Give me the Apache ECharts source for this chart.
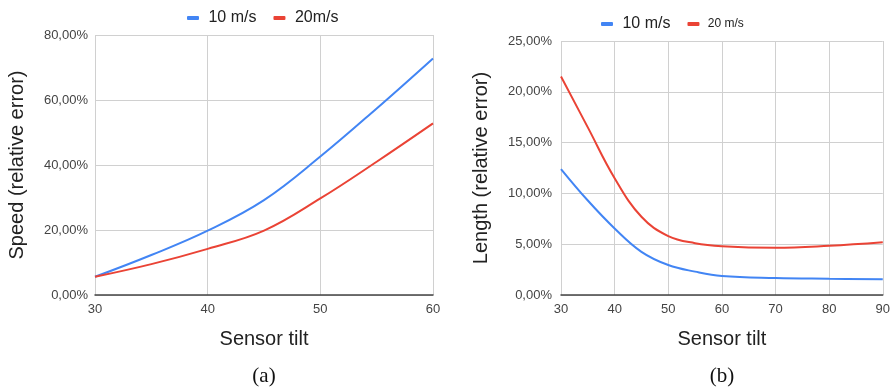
<!DOCTYPE html>
<html><head><meta charset="utf-8">
<script src="https://cdn.jsdelivr.net/npm/echarts@6/dist/echarts.min.js"></script>
<style>html,body{margin:0;padding:0;background:#fff}#c{width:893px;height:391px}</style>
</head><body><div id="c"></div>
<script>
const tiltA = [30, 35, 40, 45, 50, 55, 60];
const speed10 = [5.6, 12.3, 19.8, 29.2, 42.6, 57.4, 72.8];
const speed20 = [5.6, 9.5, 14.2, 19.8, 29.7, 41.0, 52.8];
const tiltB = [30, 35, 40, 45, 50, 55, 60, 70, 80, 90];
const length10 = [12.4, 9.3, 6.55, 4.25, 2.95, 2.3, 1.87, 1.67, 1.6, 1.55];
const length20 = [21.5, 16.5, 11.5, 7.7, 5.8, 5.1, 4.8, 4.65, 4.85, 5.2];
const seriesNamesA = ['10 m/s', '20m/s'];
const seriesNamesB = ['10 m/s', '20 m/s'];
const captions = ['(a)', '(b)'];

const BLUE = '#4285F4', RED = '#EA4335';
const FONT = '"Liberation Sans", Arial, sans-serif';
const pct = v => v.toFixed(2).replace('.', ',') + '%';
const zip = (xs, ys) => xs.map((x, i) => [x, ys[i]]);
const axisLbl = {color: '#444', fontSize: 13, fontFamily: FONT};
const gridLine = {show: true, lineStyle: {color: '#d0d0d0', width: 1}};
const nameStyle = {fontSize: 20, color: '#222', fontFamily: FONT};
const capStyle = {fontFamily: '"Liberation Serif", "DejaVu Serif", serif', fontSize: 21, fontWeight: 'normal', color: '#111'};
const legFmt = n => ' ' + n.trim();

const chart = echarts.init(document.getElementById('c'));
chart.setOption({
  animation: false,
  legend: [
    {left: 182, top: 5, itemWidth: 12, itemHeight: 4, icon: 'roundRect', itemGap: 17, formatter: legFmt,
     textStyle: {fontSize: 16, color: '#222', fontFamily: FONT},
     data: [{name: seriesNamesA[0]}, {name: seriesNamesA[1]}]},
    {left: 596, top: 11, itemWidth: 12, itemHeight: 4, icon: 'roundRect', itemGap: 17, formatter: legFmt,
     textStyle: {color: '#222', fontFamily: FONT},
     data: [{name: seriesNamesB[0] + ' ', textStyle: {fontSize: 16}}, {name: seriesNamesB[1], textStyle: {fontSize: 12}}]}
  ],
  title: [
    {text: captions[0], left: 259, top: 361, textAlign: 'center', textStyle: capStyle},
    {text: captions[1], left: 717, top: 361, textAlign: 'center', textStyle: capStyle}
  ],
  grid: [
    {left: 95, right: 460, top: 35, bottom: 96},
    {left: 561, right: 10, top: 41, bottom: 96}
  ],
  xAxis: [
    {type: 'value', gridIndex: 0, min: 30, max: 60, interval: 10,
     name: 'Sensor tilt', nameLocation: 'middle', nameGap: 34, nameTextStyle: nameStyle,
     axisLine: {lineStyle: {color: '#444', width: 1.5}}, axisTick: {show: false},
     axisLabel: axisLbl, splitLine: gridLine},
    {type: 'value', gridIndex: 1, min: 30, max: 90, interval: 10,
     name: 'Sensor tilt', nameLocation: 'middle', nameGap: 34, nameTextStyle: nameStyle,
     axisLine: {lineStyle: {color: '#444', width: 1.5}}, axisTick: {show: false},
     axisLabel: axisLbl, splitLine: gridLine}
  ],
  yAxis: [
    {type: 'value', gridIndex: 0, min: 0, max: 80, interval: 20,
     name: 'Speed (relative error)', nameLocation: 'middle', nameGap: 68, nameTextStyle: nameStyle,
     axisLine: {show: false}, axisTick: {show: false},
     axisLabel: Object.assign({formatter: pct, margin: 7}, axisLbl), splitLine: gridLine},
    {type: 'value', gridIndex: 1, min: 0, max: 25, interval: 5,
     name: 'Length (relative error)', nameLocation: 'middle', nameGap: 70, nameTextStyle: nameStyle,
     axisLine: {show: false}, axisTick: {show: false},
     axisLabel: Object.assign({formatter: pct, margin: 9}, axisLbl), splitLine: gridLine}
  ],
  series: [
    {name: seriesNamesA[0], type: 'line', xAxisIndex: 0, yAxisIndex: 0, smooth: 0.4, showSymbol: false,
     data: zip(tiltA, speed10), itemStyle: {color: BLUE}, lineStyle: {color: BLUE, width: 2}},
    {name: seriesNamesA[1], type: 'line', xAxisIndex: 0, yAxisIndex: 0, smooth: 0.4, showSymbol: false,
     data: zip(tiltA, speed20), itemStyle: {color: RED}, lineStyle: {color: RED, width: 2}},
    {name: seriesNamesB[0] + ' ', type: 'line', xAxisIndex: 1, yAxisIndex: 1, smooth: 0.4, showSymbol: false,
     data: zip(tiltB, length10), itemStyle: {color: BLUE}, lineStyle: {color: BLUE, width: 2}},
    {name: seriesNamesB[1], type: 'line', xAxisIndex: 1, yAxisIndex: 1, smooth: 0.4, showSymbol: false,
     data: zip(tiltB, length20), itemStyle: {color: RED}, lineStyle: {color: RED, width: 2}}
  ]
});
</script></body></html>
